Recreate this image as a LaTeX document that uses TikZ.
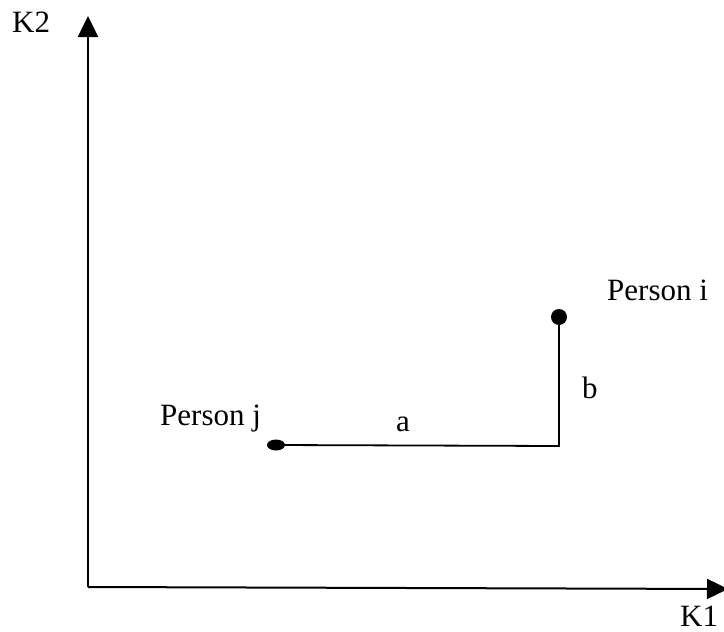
\documentclass[tikz,border=0pt]{standalone}
\usepackage{fontspec}
\setmainfont{Liberation Serif}
\usetikzlibrary{arrows.meta,shapes.geometric}
\begin{document}
\begin{tikzpicture}[x=1pt,y=-1pt,
  axis/.style={line width=2.4pt,-{Triangle[length=21pt,width=20pt]}},
  seg/.style={line width=1.8pt},
  lbl/.style={font=\fontsize{31}{35}\selectfont,inner sep=0pt,anchor=base west}]
\useasboundingbox (0,0) rectangle (724,632);
\coordinate (O) at (88,587);
\coordinate (ytop) at (88,16);
\coordinate (xend) at (728,589);
\draw[axis] (O) -- (ytop);
\draw[axis,line width=2pt] (O) -- (xend);
\node[fill=black,circle,inner sep=0pt,minimum size=16pt] (doti) at (559,317) {};
\node[fill=black,ellipse,inner sep=0pt,minimum width=18pt,minimum height=11pt] (dotj) at (276,445) {};
\coordinate (corner) at (559,446);
\draw[seg] (dotj.center) -- (corner) -- (doti.center);
\node[lbl] (k2) at (12,32) {K2};
\node[lbl] (k1) at (680,626) {K1};
\node[lbl] (pi) at (607,300) {Person i};
\node[lbl] (pj) at (160,425) {Person j};
\node[lbl] (a) at (396,431) {a};
\node[lbl] (b) at (582,398) {b};
\end{tikzpicture}
\end{document}
